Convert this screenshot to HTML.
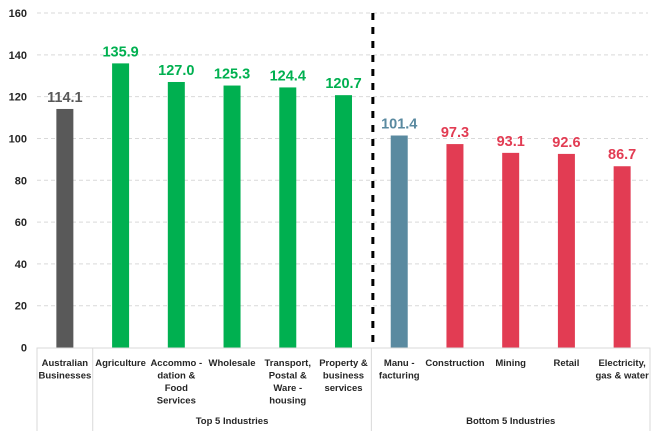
<!DOCTYPE html>
<html><head><meta charset="utf-8"><style>
body{margin:0;background:#fff;}
svg{display:block;font-family:"Liberation Sans",sans-serif;}
</style></head><body>
<svg id="c" width="660" height="431" viewBox="0 0 660 431"></svg>
<script>
const categories=[["Australian","Businesses"],["Agriculture"],["Accommo -","dation &","Food","Services"],["Wholesale"],["Transport,","Postal &","Ware -","housing"],["Property &","business","services"],["Manu -","facturing"],["Construction"],["Mining"],["Retail"],["Electricity,","gas & water"]];
const values=[114.1,135.9,127.0,125.3,124.4,120.7,101.4,97.3,93.1,92.6,86.7];
const labels=["114.1","135.9","127.0","125.3","124.4","120.7","101.4","97.3","93.1","92.6","86.7"];
const colors=["#595959","#00b050","#00b050","#00b050","#00b050","#00b050","#5a8aa0","#e23c53","#e23c53","#e23c53","#e23c53"];
const ticks=[0,20,40,60,80,100,120,140,160];
const groups=[{name:"Top 5 Industries",from:1,to:5},{name:"Bottom 5 Industries",from:6,to:10}];
const NS="http://www.w3.org/2000/svg",svg=document.getElementById("c");
const x0=37,x1=650,yTop=13,yBot=347.5,band=(x1-x0)/categories.length;
const y=v=>yBot-(v/160)*(yBot-yTop);
const xc=i=>x0+band*(i+0.5);
function mk(t,a,p){const e=document.createElementNS(NS,t);for(const k in a)e.setAttribute(k,a[k]);(p||svg).appendChild(e);return e;}
ticks.forEach(t=>{
 if(t>0){const g=mk("line",{x1:x0,x2:648,y1:y(t),y2:y(t),stroke:"#d9d9d9","stroke-dasharray":"4,3","stroke-width":1});
 
 }
 const l=mk("text",{x:27,y:y(t)+4,"text-anchor":"end","font-size":11,"font-weight":"bold",fill:"#262626"});l.textContent=t;
 
 
});
values.forEach((v,i)=>{
 const r=mk("rect",{x:xc(i)-8.5,y:y(v),width:17,height:yBot-y(v),fill:colors[i]});
 
 
 const t=mk("text",{x:xc(i),y:y(v)-7,"text-anchor":"middle","font-size":14.5,"font-weight":"bold",fill:colors[i]});t.textContent=labels[i];
 
 
 categories[i].forEach((s,j)=>{const c=mk("text",{x:xc(i),y:366+j*12.5,"text-anchor":"middle","font-size":9.5,"font-weight":"bold",fill:"#262626"});c.textContent=s;
 
 });
});
const ax=mk("line",{x1:x0,x2:x1,y1:yBot+0.5,y2:yBot+0.5,stroke:"#d9d9d9","stroke-width":1});


[0,1,6,11].forEach(k=>{const xx=x0+band*k;const d=mk("line",{x1:xx,x2:xx,y1:yBot,y2:431,stroke:"#d9d9d9","stroke-width":1});
 
 });
groups.forEach(g=>{const cx=(x0+band*g.from+x0+band*(g.to+1))/2;const t=mk("text",{x:cx,y:424,"text-anchor":"middle","font-size":9.5,"font-weight":"bold",fill:"#262626"});t.textContent=g.name;
 
 });
const sep=mk("line",{x1:x0+band*6+1.5,x2:x0+band*6+1.5,y1:yTop,y2:yBot,stroke:"#000","stroke-width":3,"stroke-dasharray":"7,7"});


</script>
</body></html>
